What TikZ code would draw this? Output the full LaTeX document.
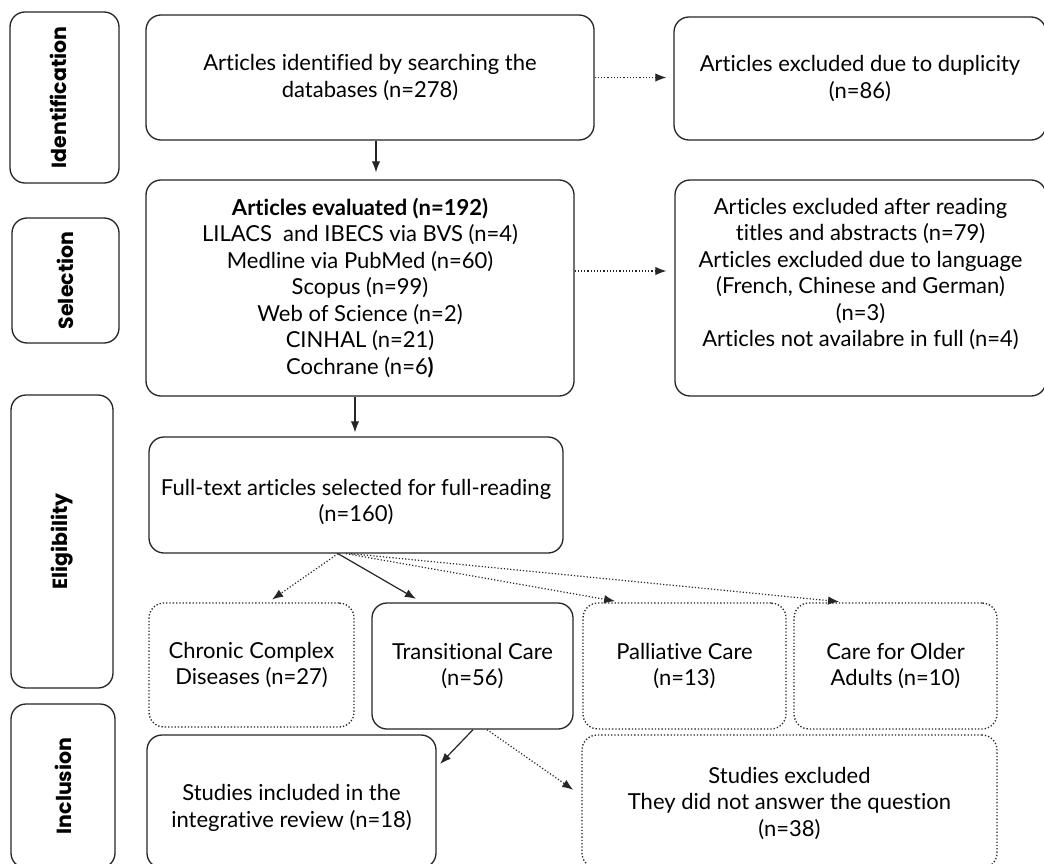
\documentclass[tikz,border=0pt]{standalone}
\usepackage{fontspec}
\setmainfont{Lato}[Ligatures={NoCommon,NoContextual}, Contextuals=NoAlternate]
\newfontfamily\phasefont{Poppins}
\usetikzlibrary{arrows.meta}

% lines of a node moved up (or down) inside their box
\newcommand{\liftlines}[2]{\raisebox{#1}[\height][\depth]{\begin{tabular}{@{}c@{}}#2\end{tabular}}}

\tikzset{
  flowbox/.style={draw=black!85, line width=1.3pt, rounded corners=15pt, align=center,
    inner sep=0pt, font=\fontsize{22}{26.5}\selectfont},
  dotbox/.style={flowbox, dotted},
  phasebox/.style={draw=black!85, line width=1.3pt, rounded corners=15pt, rotate=90,
    inner sep=0pt, font=\phasefont\bfseries\fontsize{20.5}{22}\selectfont},
  solidarrow/.style={draw=black!85, line width=1.2pt, -{Latex[length=11pt,width=8.5pt]}},
  dotarrow/.style={solidarrow, dotted},
}

\begin{document}
\begin{tikzpicture}[x=1pt,y=-1pt]
\useasboundingbox[fill=white] (0,0) rectangle (1044,864);

% Macro for phase column (name, centre x, centre y, length, width, label)
\newcommand{\phaselabel}[6]{
    \node[phasebox, minimum width=#4, minimum height=#5] (#1) at (#2,#3) {#6};
}

% Phases
\phaselabel{idph}{64.5}{97.5}{171pt}{109pt}{\raisebox{6pt}[\height][\depth]{Identification}}
\phaselabel{selph}{65.5}{280.5}{125pt}{107pt}{Selection}
\phaselabel{eligph}{62}{541.5}{293pt}{102pt}{Eligibility}
\phaselabel{inclph}{63}{786}{164pt}{104pt}{Inclusion}

% Identification
\node[flowbox, minimum width=448pt, minimum height=125pt] (search) at (370,77.5)
    {Articles identified by searching the\\ databases (n=278)};
\node[flowbox, minimum width=372pt, minimum height=123pt] (dupl) at (860,78.5)
    {Articles excluded due to duplicity\\ (n=86)};

% Selection
\node[flowbox, minimum width=428pt, minimum height=216pt] (evaluated) at (360,288)
    {\textbf{Articles evaluated (n=192)}\\
     LILACS\ \ and IBECS via BVS (n=4)\\
     Medline via PubMed (n=60)\\
     Scopus (n=99)\\
     Web of Science (n=2)\\
     CINHAL (n=21)\\
     Cochrane (n=6\textbf{)}};
\node[flowbox, minimum width=371pt, minimum height=216pt] (screened) at (860.5,288)
    {\liftlines{13pt}{Articles excluded after reading\\
     titles and abstracts (n=79)\\
     Articles excluded due to language\\
     (French, Chinese and German)\\
     (n=3)\\
     Articles not availabre in full (n=4)}};

% Eligibility
\node[flowbox, minimum width=414pt, minimum height=116pt] (fulltext) at (356,495)
    {\liftlines{-8pt}{Full-text articles selected for full-reading\\ (n=160)}};
\node[dotbox, minimum width=205pt, minimum height=124pt] (chronic) at (251.5,665)
    {Chronic Complex\\ Diseases (n=27)};
\node[flowbox, minimum width=201pt, minimum height=126pt] (transit) at (472.5,666)
    {Transitional Care\\ (n=56)};
\node[dotbox, minimum width=203pt, minimum height=126pt] (palliat) at (684.5,666)
    {Palliative Care\\ (n=13)};
\node[dotbox, minimum width=203pt, minimum height=126pt] (older) at (895.5,666)
    {Care for Older\\ Adults (n=10)};

% Inclusion
\node[flowbox, minimum width=289pt, minimum height=133pt] (included) at (291.5,801.5)
    {\liftlines{-7pt}{Studies included in the\\ integrative review (n=18)}};
\node[dotbox, minimum width=415pt, minimum height=133pt] (excluded) at (789.5,801.5)
    {\liftlines{-3pt}{Studies excluded\\ They did not answer the question\\ (n=38)}};

% Connectors
\coordinate (duparrow) at (search.east);
\coordinate (scrarrow) at ([yshift=17pt]evaluated.east);
\draw[solidarrow, shorten >=7pt] ([xshift=6pt]search.south) -- ([xshift=16pt]evaluated.north);
\draw[dotarrow, shorten >=7pt] (duparrow) -- (duparrow -| dupl.west);
\draw[dotarrow, shorten >=8pt] (scrarrow) -- (scrarrow -| screened.west);
\draw[solidarrow, shorten >=4pt] ([xshift=-5pt]evaluated.south) -- ([xshift=-1pt]fulltext.north);

\draw[dotarrow, shorten >=5pt] ([xshift=-18pt]fulltext.south) -- ([xshift=16.5pt]chronic.north);
\draw[solidarrow, shorten >=7pt] ([xshift=-18pt]fulltext.south) -- ([xshift=-50.5pt]transit.north);
\draw[dotarrow, shorten >=7pt] ([xshift=-10pt]fulltext.south) -- ([xshift=-62.5pt]palliat.north);
\draw[dotarrow, shorten >=7pt] ([xshift=-5pt]fulltext.south) -- ([xshift=-49.5pt]older.north);

\draw[solidarrow, shorten >=5pt] ([xshift=0.5pt]transit.south) -- ([yshift=34pt]included.east);
\draw[dotarrow, shorten >=10pt] ([xshift=14.5pt]transit.south) -- ([yshift=6pt]excluded.west);

\end{tikzpicture}
\end{document}
